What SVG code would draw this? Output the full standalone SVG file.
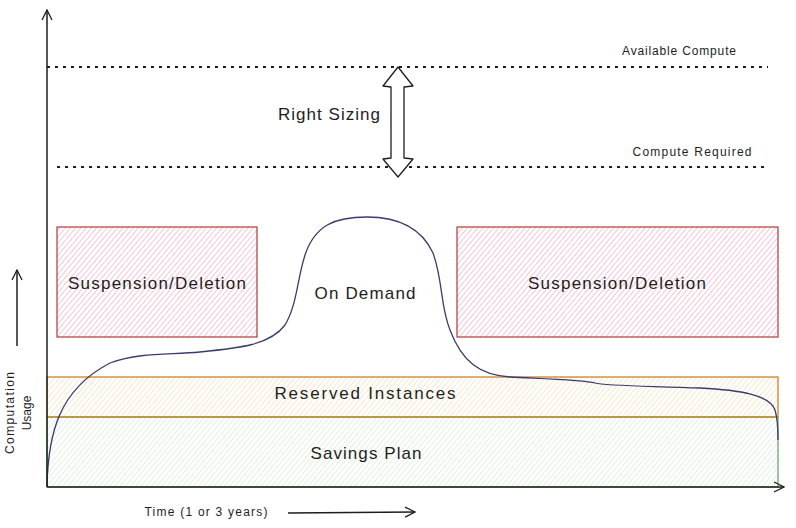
<svg xmlns="http://www.w3.org/2000/svg" width="796" height="528" viewBox="0 0 796 528">
<defs>
<pattern id="hPink" patternUnits="userSpaceOnUse" width="4" height="4" patternTransform="rotate(40)"><line x1="0" y1="0" x2="0" y2="4" stroke="#f4a3c2" stroke-width="1.3"/></pattern>
<pattern id="hOrange" patternUnits="userSpaceOnUse" width="4" height="4" patternTransform="rotate(40)"><line x1="0" y1="0" x2="0" y2="4" stroke="#f8d6a6" stroke-width="1.2"/></pattern>
<pattern id="hGreen" patternUnits="userSpaceOnUse" width="4" height="4" patternTransform="rotate(40)"><line x1="0" y1="0" x2="0" y2="4" stroke="#cfe6cf" stroke-width="1.2"/></pattern>
<marker id="open" viewBox="0 0 12 12" refX="11" refY="6" markerWidth="12" markerHeight="12" markerUnits="userSpaceOnUse" orient="auto"><path d="M1,1 L11,6 L1,11" fill="none" stroke="#1e1e1e" stroke-width="1.3"/></marker>
</defs>
<style>
text{font-family:"Liberation Sans","DejaVu Sans",sans-serif;fill:#1e1e1e}
.lbl{font-size:17px;text-anchor:middle;dominant-baseline:central}
.sm{font-size:12px;text-anchor:middle;dominant-baseline:central}
.dot{stroke:#1e1e1e;stroke-width:2;stroke-dasharray:3 5;fill:none}
.ax{stroke:#1e1e1e;stroke-width:1.5;fill:none}
</style>
<rect width="796" height="528" fill="#ffffff"/>

<g id="savings-plan">
<rect x="47" y="417" width="731" height="70" fill="url(#hGreen)" stroke="#5ea357" stroke-width="1.2"/>
<text class="lbl" x="366" y="453" textLength="111" lengthAdjust="spacing">Savings Plan</text>
</g>
<g id="reserved-instances">
<rect x="47" y="377" width="731" height="40" fill="url(#hOrange)" stroke="#c9791a" stroke-width="1.2"/>
<text class="lbl" x="365" y="393" textLength="181" lengthAdjust="spacing">Reserved Instances</text>
</g>
<g id="suspension-left">
<rect x="57" y="227" width="200" height="110" fill="url(#hPink)" stroke="#b03a3a" stroke-width="1.2"/>
<text class="lbl" x="157" y="283" textLength="178" lengthAdjust="spacing">Suspension/Deletion</text>
</g>
<g id="suspension-right">
<rect x="457" y="227" width="321" height="110" fill="url(#hPink)" stroke="#b03a3a" stroke-width="1.2"/>
<text class="lbl" x="617" y="283" textLength="178" lengthAdjust="spacing">Suspension/Deletion</text>
</g>

<g id="on-demand">
<path d="M47,487 C48,435 58,390 110,363 C140,352 170,355 200,352 C240,348 270,345 285,325 C297,305 297,280 305,255 C315,225 335,217 367,217 C395,217 420,225 433,253 C443,280 440,305 450,330 C462,362 480,375 510,377 C550,379 585,380 595,383 C605,386 650,386 700,388 C740,390 770,395 775,410 C778,420 778,430 778,440" fill="none" stroke="#3b3b6e" stroke-width="1.3"/>
<text class="lbl" x="365" y="293" textLength="101" lengthAdjust="spacing">On Demand</text>
</g>

<g id="axes">
<line class="ax" x1="47" y1="487" x2="47" y2="10" marker-end="url(#open)"/>
<line class="ax" x1="47" y1="487" x2="784" y2="487" marker-end="url(#open)"/>
</g>

<g id="available-compute">
<line class="dot" x1="47" y1="67" x2="768" y2="67"/>
<text class="sm" x="679" y="51" textLength="114" lengthAdjust="spacing">Available Compute</text>
</g>
<g id="compute-required">
<line class="dot" x1="57" y1="167" x2="765" y2="167"/>
<text class="sm" x="692" y="152" textLength="119" lengthAdjust="spacing">Compute Required</text>
</g>

<g id="right-sizing">
<path d="M398,67 L413,86 L404,87 L404,158 L413,159 L398,177 L383,159 L391,158 L391,87 L383,86 Z" fill="#ffffff" stroke="#1e1e1e" stroke-width="1.3" stroke-linejoin="round"/>
<text class="lbl" x="329" y="114" textLength="102" lengthAdjust="spacing">Right Sizing</text>
</g>

<g id="y-label">
<line class="ax" x1="17" y1="346" x2="17" y2="270" marker-end="url(#open)" stroke-width="1.2"/>
<text class="sm" transform="translate(10,413) rotate(-90)" x="0" y="0" textLength="82" lengthAdjust="spacing">Computation</text>
<text class="sm" transform="translate(27,413) rotate(-90)" x="0" y="0">Usage</text>
</g>

<g id="x-label">
<text class="sm" x="206" y="512" textLength="123" lengthAdjust="spacing">Time (1 or 3 years)</text>
<line class="ax" x1="288" y1="513" x2="415" y2="512" marker-end="url(#open)" stroke-width="1.2"/>
</g>
</svg>
